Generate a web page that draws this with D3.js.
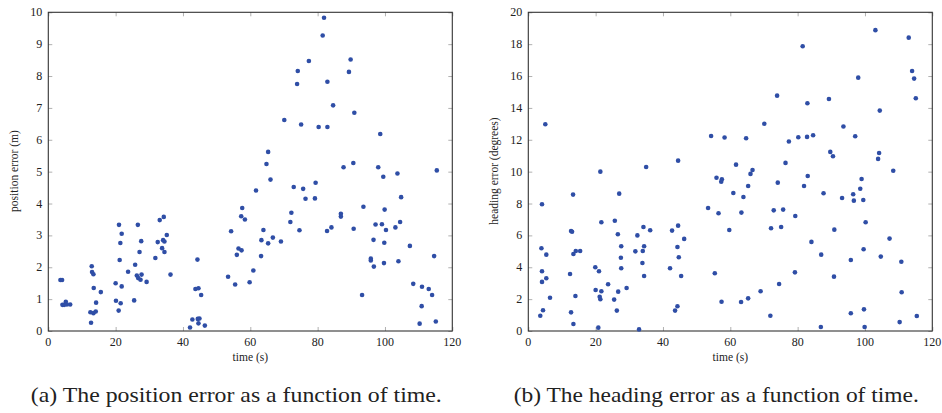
<!DOCTYPE html>
<html>
<head>
<meta charset="utf-8">
<script src="https://cdn.jsdelivr.net/npm/d3@7"></script>
<style>
  body { margin: 0; background: #fff; }
  svg text { fill: #222; }
</style>
</head>
<body>
<svg id="chart" width="942" height="413"></svg>
<script>
// position error (m) vs time (s)
var posTime = [3.6,4.1,4.2,4.7,5.2,5.5,6.5,12.9,13.0,13.4,13.5,12.7,12.5,13.4,14.1,14.2,15.6,20.0,20.1,20.9,
  21.0,21.2,21.4,21.5,21.8,21.8,23.7,25.5,25.8,26.6,26.3,26.7,27.1,27.4,27.6,27.7,29.2,31.8,32.5,33.1,
  33.8,34.1,34.3,34.5,34.5,35.2,36.3,42.1,42.8,43.7,44.3,44.6,44.4,44.9,44.6,45.4,46.5,53.4,54.3,55.5,
  56.0,56.5,57.4,57.3,57.6,58.4,59.8,60.9,61.7,63.2,63.3,63.9,64.8,65.3,66.0,66.7,69.1,71.9,72.2,72.9,
  74.6,75.7,76.4,79.2,79.4,82.8,84.1,86.9,86.9,87.7,90.6,90.7,93.2,93.6,95.8,95.8,96.6,96.7,97.2,98.0,
  99.1,99.5,99.7,99.8,99.9,100.3,103.1,103.7,104.0,104.5,104.8,107.4,108.4,110.3,110.9,111.0,113.0,114.0,114.6,115.1,
  115.4,81.9,81.5,77.4,89.8,74.1,89.3,73.9,82.9,84.6,90.9,70.1,75.1,80.3,82.9,98.6,65.3];
var posErr = [1.6,1.6,0.82,0.82,0.92,0.83,0.83,2.03,1.85,1.78,1.35,0.26,0.59,0.56,0.61,0.89,1.22,1.5,0.95,0.64,
  3.33,2.23,2.76,0.87,3.05,1.40,1.86,0.96,2.08,3.33,1.74,1.66,2.48,1.61,2.82,1.77,1.54,2.29,2.79,3.48,
  2.6,2.85,3.58,2.81,2.48,3.01,1.77,0.11,0.36,1.32,2.24,1.34,0.38,0.39,0.24,1.13,0.17,1.70,3.13,1.46,
  2.39,2.59,2.53,3.6,3.86,3.5,1.53,1.90,4.41,2.35,2.85,3.17,5.24,2.75,4.75,2.93,2.81,3.42,3.71,4.52,
  3.16,4.46,4.15,4.16,4.65,3.14,3.25,3.68,3.59,5.14,5.27,3.21,1.13,3.9,2.27,2.21,2.86,2.02,3.34,5.14,
  3.35,4.84,2.13,2.77,3.81,3.17,3.25,4.94,2.19,3.42,4.20,2.67,1.48,0.23,0.78,1.39,1.32,1.13,2.35,0.30,
  5.04,9.83,9.27,8.47,8.52,8.16,8.13,7.75,7.82,7.08,6.85,6.62,6.48,6.40,6.40,6.18,5.62];

// heading error (degrees) vs time (s)
var headTime = [5.05,21.4,35.0,44.5,53.4,54.3,4.07,13.3,27.0,21.7,25.7,12.7,13.0,34.2,36.2,44.5,42.7,26.6,32.4,46.3,
  3.9,5.35,13.4,14.1,15.4,27.6,31.8,34.0,34.4,44.3,27.5,44.7,4.07,5.35,4.07,12.4,19.9,21.0,27.6,33.9,
  34.4,42.1,45.4,23.7,29.2,20.0,21.7,26.7,6.45,14.0,21.2,21.4,25.5,4.37,3.56,12.7,26.3,44.3,43.6,13.4,
  20.8,32.9,103.1,113.0,81.5,114.0,114.6,98.0,73.9,89.3,82.9,115.1,104.4,70.1,93.6,58.3,64.7,77.4,80.2,82.8,
  84.6,97.1,89.7,90.5,104.2,103.9,61.7,76.4,66.6,66.0,108.4,55.9,57.5,57.3,83.0,99.0,65.3,74.1,81.9,98.6,
  60.9,63.9,87.7,93.2,96.5,96.7,99.5,56.5,63.3,72.9,75.7,79.3,100.2,59.7,72.1,75.1,90.9,84.1,107.3,87.0,
  99.6,95.8,104.7,110.8,55.4,79.2,90.8,74.5,69.0,110.9,57.4,63.2,65.3,71.9,95.8,99.7,110.3,115.4,86.9,99.9];
var headErr = [12.97,10.0,10.29,10.69,7.72,12.24,7.95,8.56,8.62,6.82,6.92,6.28,6.23,6.53,6.32,6.61,6.30,6.07,6.0,5.78,
  5.19,4.79,4.83,5.02,5.02,5.32,5.0,5.02,5.32,5.27,4.6,4.63,3.75,3.31,3.08,3.58,4.0,3.75,3.94,4.27,
  3.45,3.94,3.45,2.93,2.70,2.57,2.49,2.47,2.09,2.2,2.15,1.99,1.97,1.3,0.96,1.17,1.28,1.55,1.28,0.44,
  0.21,0.1,18.88,18.41,17.87,16.32,15.84,15.9,14.77,14.56,14.29,14.61,13.83,13.01,12.83,12.14,12.1,11.89,12.16,12.18,
  12.28,12.22,11.24,10.97,11.17,10.8,10.44,10.55,10.1,9.86,10.06,9.62,9.52,9.37,9.73,9.54,9.1,9.31,9.1,8.93,
  8.66,8.41,8.64,8.35,8.58,8.18,8.22,7.39,7.43,7.57,7.62,7.22,6.82,6.34,6.45,6.53,6.36,5.59,5.8,4.79,
  5.13,4.46,4.67,4.35,3.62,3.68,3.41,2.95,2.49,2.43,1.84,1.82,2.05,0.96,1.11,1.36,0.56,0.94,0.25,0.25];

var xTicks = [0, 20, 40, 60, 80, 100, 120];
var posTicks = [0,1,2,3,4,5,6,7,8,9,10];
var headTicks = [0,2,4,6,8,10,12,14,16,18,20];

var svg = d3.select("#chart");
var serif = "'Liberation Serif', 'DejaVu Serif', serif";

function scatter(left, xs, ys, yMax, yTicks, yLabel, caption, capWidth) {
  var x = d3.scaleLinear().domain([0, 120]).range([left, left + 404]);
  var y = d3.scaleLinear().domain([0, yMax]).range([331, 12.3]);
  var g = svg.append("g");

  // inward ticks on all four sides
  var tickCol = "#b0b0b0";
  g.append("g").attr("transform", "translate(0,331)")
    .call(d3.axisBottom(x).tickValues(xTicks).tickSize(-4).tickFormat(""))
    .call(a => a.select(".domain").remove())
    .selectAll("line").attr("stroke", tickCol);
  g.append("g").attr("transform", "translate(0,12.3)")
    .call(d3.axisTop(x).tickValues(xTicks).tickSize(-4).tickFormat(""))
    .call(a => a.select(".domain").remove())
    .selectAll("line").attr("stroke", tickCol);
  g.append("g").attr("transform", "translate(" + left + ",0)")
    .call(d3.axisLeft(y).tickValues(yTicks).tickSize(-4).tickFormat(""))
    .call(a => a.select(".domain").remove())
    .selectAll("line").attr("stroke", tickCol);
  g.append("g").attr("transform", "translate(" + (left + 404) + ",0)")
    .call(d3.axisRight(y).tickValues(yTicks).tickSize(-4).tickFormat(""))
    .call(a => a.select(".domain").remove())
    .selectAll("line").attr("stroke", tickCol);

  // tick labels
  g.selectAll(".xl").data(xTicks).enter().append("text")
    .attr("x", d => x(d)).attr("y", 346)
    .attr("text-anchor", "middle")
    .style("font-family", serif).style("font-size", "12px")
    .text(d => d);
  g.selectAll(".yl").data(yTicks).enter().append("text")
    .attr("x", left - 6).attr("y", d => y(d) + 4)
    .attr("text-anchor", "end")
    .style("font-family", serif).style("font-size", "12px")
    .text(d => d);

  // frame
  g.append("rect")
    .attr("x", left).attr("y", 12.3)
    .attr("width", 404).attr("height", 331 - 12.3)
    .attr("fill", "none").attr("stroke", "#333").attr("stroke-width", 1.1);

  // points
  g.selectAll("circle").data(d3.range(xs.length)).enter().append("circle")
    .attr("cx", i => x(xs[i])).attr("cy", i => y(ys[i]))
    .attr("r", 2.3)
    .attr("fill", "#2f4ea6");

  // axis labels
  g.append("text")
    .attr("x", left + 202).attr("y", 361)
    .attr("text-anchor", "middle")
    .style("font-family", serif).style("font-size", "11.5px")
    .text("time (s)");
  g.append("text")
    .attr("transform", "translate(" + (left - 30) + "," + 171 + ") rotate(-90)")
    .attr("text-anchor", "middle")
    .style("font-family", serif).style("font-size", "11.5px")
    .text(yLabel);

  // caption
  g.append("text")
    .attr("x", left + 188 - capWidth / 2).attr("y", 402)
    .attr("textLength", capWidth)
    .attr("lengthAdjust", "spacingAndGlyphs")
    .style("font-family", serif).style("font-size", "21px")
    .text(caption);
}

scatter(48.3, posTime, posErr, 10, posTicks, "position error (m)", "(a)  The position error as a function of time.", 411);
scatter(528.3, headTime, headErr, 20, headTicks, "heading error (degrees)", "(b)  The heading error as a function of time.", 405);
</script>
</body>
</html>
